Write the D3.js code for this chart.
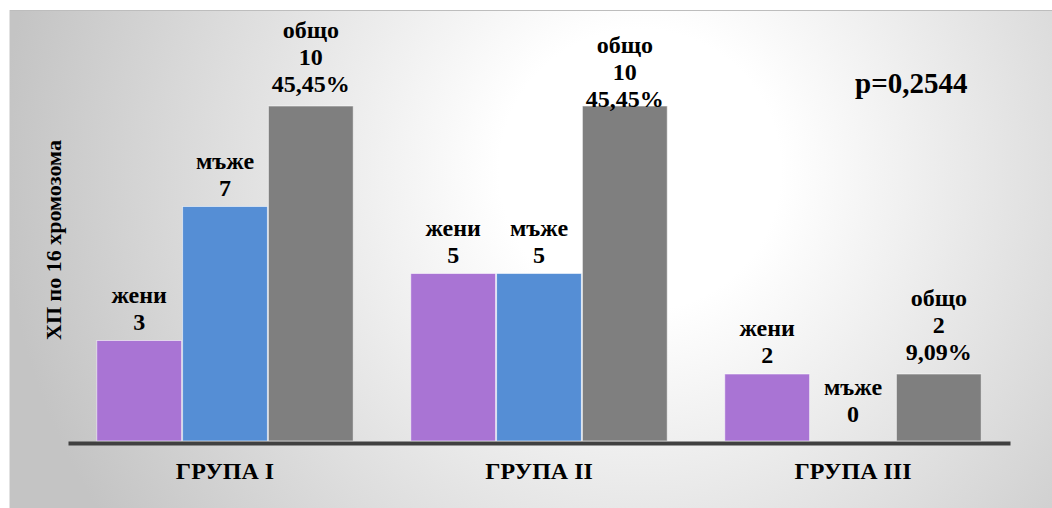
<!DOCTYPE html>
<html>
<head>
<meta charset="utf-8">
<script src="https://cdn.jsdelivr.net/npm/d3@7"></script>
<style>
  html, body { margin: 0; padding: 0; background: #ffffff; }
  svg { display: block; }
  text { font-family: "Liberation Serif", "Times New Roman", serif; font-weight: bold; fill: #000; }
</style>
</head>
<body>
<svg id="chart" width="1052" height="508"></svg>
<script>
// Groups along the x axis
const groups = ["ГРУПА I", "ГРУПА II", "ГРУПА III"];
// Series shown inside every group
const seriesNames = ["жени", "мъже", "общо"];
// Counts per series, one value per group
const women = [3, 5, 2];
const men = [7, 5, 0];
const total = [10, 10, 2];
// Share of all cases for the "общо" bars
const totalShare = ["45,45%", "45,45%", "9,09%"];
const yAxisTitle = "ХП по 16 хромозома";
const pValueText = "p=0,2544";

const colors = ["#a974d4", "#558ed5", "#7f7f7f"];

const svg = d3.select("#chart");
const W = 1052, H = 508;

// Panel background: soft radial gradient, light in the middle
const defs = svg.append("defs");
const grad = defs.append("radialGradient")
  .attr("id", "bg")
  .attr("gradientUnits", "userSpaceOnUse")
  .attr("cx", 640).attr("cy", 170).attr("r", 640);
grad.append("stop").attr("offset", "0").attr("stop-color", "#ffffff");
grad.append("stop").attr("offset", "0.22").attr("stop-color", "#ffffff");
grad.append("stop").attr("offset", "1").attr("stop-color", "#c4c4c4");

svg.append("rect")
  .attr("x", 9).attr("y", 10)
  .attr("width", W - 9).attr("height", H - 10)
  .attr("fill", "url(#bg)");
svg.append("line")
  .attr("x1", 9).attr("x2", W).attr("y1", 10.5).attr("y2", 10.5)
  .attr("stroke", "#bdbdbd").attr("stroke-width", 1);
svg.append("line")
  .attr("x1", 9.5).attr("x2", 9.5).attr("y1", 10).attr("y2", H)
  .attr("stroke", "#e2e2e2").attr("stroke-width", 1);

// Scales
const x = d3.scaleBand()
  .domain(groups)
  .range([68, 1010])
  .paddingInner(0.18)
  .paddingOuter(0.09);

const xSeries = d3.scaleBand()
  .domain(seriesNames)
  .range([0, x.bandwidth()])
  .padding(0);

const y = d3.scaleLinear()
  .domain([0, 12])
  .range([441, 39]);

const values = [women, men, total];
const rows = [];
groups.forEach((g, gi) => {
  seriesNames.forEach((s, si) => {
    rows.push({ group: g, gi, series: s, si, value: values[si][gi] });
  });
});

// Bars
svg.append("g")
  .selectAll("rect")
  .data(rows)
  .join("rect")
  .attr("x", d => x(d.group) + xSeries(d.series) + 0.5)
  .attr("y", d => y(d.value))
  .attr("width", xSeries.bandwidth() - 1)
  .attr("height", d => y(0) - y(d.value))
  .attr("fill", d => colors[d.si])
  .attr("stroke", "rgba(255,255,255,0.55)")
  .attr("stroke-width", 1)
  .attr("display", d => d.value > 0 ? null : "none");

// Value labels above bars: series name, count, and share for totals
const lineGap = 27;
const labels = svg.append("g")
  .selectAll("text")
  .data(rows)
  .join("text")
  .attr("text-anchor", "middle")
  .attr("font-size", 24)
  .attr("transform", d => {
    const lines = d.si === 2 ? 3 : 2;
    let base = y(d.value) - 11;
    if (d.value === 0) base = y(0) - 19;
    if (d.si === 2) base -= 3;
    // the middle total label sits lower, touching its bar
    if (d.gi === 1 && d.si === 2) base += 15;
    const top = base - (lines - 1) * lineGap;
    return `translate(${x(d.group) + xSeries(d.series) + xSeries.bandwidth() / 2},${top})`;
  });
labels.each(function(d) {
  const t = d3.select(this);
  const lines = [d.series, String(d.value)];
  if (d.si === 2) lines.push(totalShare[d.gi]);
  lines.forEach((l, i) => {
    t.append("tspan").attr("x", 0).attr("y", i * lineGap).text(l);
  });
});

// Category axis with a heavy baseline
const xAxis = svg.append("g")
  .attr("transform", `translate(0,${y(0) + 2})`)
  .call(d3.axisBottom(x).tickSize(0).tickPadding(19));
xAxis.select(".domain")
  .attr("stroke", "#404040")
  .attr("stroke-width", 4);
xAxis.selectAll(".tick text")
  .attr("font-size", 24)
  .attr("fill", "#000")
  .attr("dy", "0.71em");

// Vertical axis title
svg.append("text")
  .attr("transform", `translate(61,240) rotate(-90)`)
  .attr("text-anchor", "middle")
  .attr("font-size", 22)
  .text(yAxisTitle);

// Significance annotation
svg.append("text")
  .attr("x", 855).attr("y", 93)
  .attr("font-size", 29)
  .text(pValueText);
</script>
</body>
</html>
